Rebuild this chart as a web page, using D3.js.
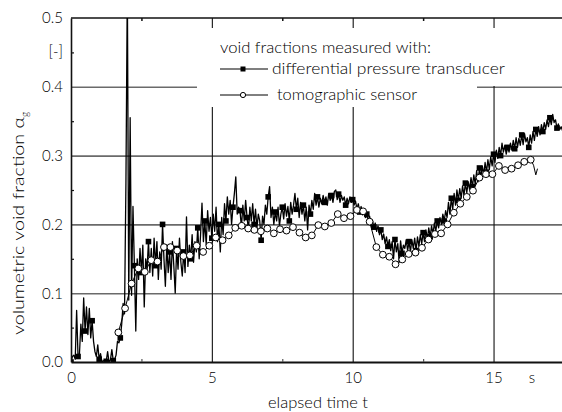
<!DOCTYPE html>
<html>
<head>
<meta charset="utf-8">
<script src="https://cdn.jsdelivr.net/npm/d3@7"></script>
<style>
  html, body { margin: 0; padding: 0; background: #fff; }
  svg { display: block; }
  text { font-family: Lato, "Liberation Sans", sans-serif; font-weight: 300; fill: #000; }
</style>
</head>
<body>
<svg id="chart" width="562" height="412"></svg>
<script>
// Differential pressure transducer: sampled every dpStep seconds from dpStart
const dpStart = 0;
const dpStep = 0.05;
const dpValues = [
  0.000, 0.008, 0.010, 0.004, 0.075, 0.008, 0.012, 0.055, 0.030, 0.093,
  0.045, 0.080, 0.040, 0.078, 0.035, 0.060, 0.030, 0.015, 0.008, 0.025,
  0.004, 0.012, 0.000, 0.002, 0.000, 0.001, 0.015, 0.000, 0.003, 0.018,
  0.002, 0.004, 0.010, 0.030, 0.028, 0.035, 0.055, 0.085, 0.070, 0.260,
  0.550, 0.090, 0.355, 0.097, 0.226, 0.140, 0.045, 0.150, 0.120, 0.165,
  0.130, 0.170, 0.080, 0.150, 0.135, 0.175, 0.130, 0.165, 0.125, 0.180,
  0.140, 0.175, 0.120, 0.160, 0.135, 0.200, 0.150, 0.110, 0.170, 0.130,
  0.160, 0.120, 0.175, 0.140, 0.100, 0.165, 0.135, 0.180, 0.145, 0.125,
  0.160, 0.130, 0.211, 0.139, 0.170, 0.150, 0.185, 0.145, 0.175, 0.160,
  0.195, 0.150, 0.185, 0.231, 0.175, 0.205, 0.170, 0.220, 0.190, 0.210,
  0.180, 0.215, 0.190, 0.225, 0.175, 0.200, 0.160, 0.210, 0.185, 0.230,
  0.205, 0.240, 0.215, 0.235, 0.200, 0.225, 0.245, 0.269, 0.215, 0.225,
  0.220, 0.195, 0.228, 0.205, 0.235, 0.210, 0.192, 0.225, 0.205, 0.230,
  0.200, 0.222, 0.195, 0.215, 0.205, 0.177, 0.212, 0.200, 0.228, 0.215,
  0.240, 0.255, 0.210, 0.225, 0.200, 0.218, 0.205, 0.225, 0.198, 0.215,
  0.225, 0.208, 0.230, 0.212, 0.226, 0.205, 0.232, 0.215, 0.228, 0.245,
  0.222, 0.238, 0.210, 0.232, 0.215, 0.228, 0.205, 0.225, 0.192, 0.228,
  0.215, 0.235, 0.222, 0.245, 0.228, 0.240, 0.225, 0.238, 0.230, 0.242,
  0.232, 0.240, 0.228, 0.245, 0.235, 0.242, 0.232, 0.248, 0.250, 0.236,
  0.244, 0.232, 0.242, 0.235, 0.240, 0.228, 0.238, 0.230, 0.240, 0.232,
  0.236, 0.228, 0.234, 0.222, 0.230, 0.218, 0.226, 0.214, 0.222, 0.210,
  0.215, 0.205, 0.212, 0.200, 0.206, 0.196, 0.202, 0.190, 0.198, 0.185,
  0.192, 0.178, 0.186, 0.172, 0.182, 0.168, 0.178, 0.162, 0.175, 0.150,
  0.178, 0.160, 0.172, 0.145, 0.176, 0.158, 0.170, 0.165, 0.178, 0.162,
  0.175, 0.160, 0.178, 0.165, 0.180, 0.162, 0.182, 0.168, 0.185, 0.172,
  0.188, 0.175, 0.192, 0.178, 0.195, 0.182, 0.198, 0.186, 0.202, 0.190,
  0.205, 0.195, 0.210, 0.200, 0.215, 0.205, 0.220, 0.210, 0.232, 0.215,
  0.238, 0.222, 0.245, 0.228, 0.250, 0.235, 0.252, 0.238, 0.256, 0.242,
  0.260, 0.246, 0.262, 0.250, 0.268, 0.255, 0.272, 0.258, 0.278, 0.262,
  0.282, 0.268, 0.285, 0.272, 0.290, 0.276, 0.294, 0.280, 0.298, 0.285,
  0.302, 0.290, 0.308, 0.296, 0.312, 0.300, 0.318, 0.305, 0.315, 0.302,
  0.312, 0.305, 0.318, 0.308, 0.322, 0.310, 0.326, 0.312, 0.325, 0.315,
  0.330, 0.316, 0.332, 0.320, 0.326, 0.312, 0.330, 0.318, 0.335, 0.322,
  0.338, 0.328, 0.342, 0.330, 0.345, 0.335, 0.348, 0.338, 0.352, 0.342,
  0.355, 0.345, 0.360, 0.348, 0.352, 0.340, 0.346, 0.338, 0.342, 0.336
];
const dpMarkerEvery = 5;

// Tomographic sensor: time [s] and void fraction
const tomoTime = [
  1.68, 1.92, 2.15, 2.39, 2.62, 2.85, 3.07, 3.30, 3.53, 3.77,
  3.99, 4.22, 4.46, 4.69, 4.91, 5.14, 5.38, 5.60, 5.83, 6.06,
  6.29, 6.51, 6.74, 6.97, 7.20, 7.42, 7.65, 7.88, 8.11, 8.33,
  8.55, 8.78, 9.01, 9.24, 9.47, 9.69, 9.92, 10.15, 10.37, 10.60,
  10.84, 11.07, 11.30, 11.52, 11.76, 11.99, 12.23, 12.46, 12.69, 12.92,
  13.14, 13.37, 13.59, 13.82, 14.05, 14.27, 14.50, 14.73, 14.96, 15.19,
  15.41, 15.64, 15.87, 16.09, 16.32, 16.42, 16.50, 16.56
];
const tomoValues = [
  0.043, 0.078, 0.114, 0.136, 0.131, 0.148, 0.146, 0.167, 0.167, 0.162,
  0.154, 0.155, 0.169, 0.160, 0.169, 0.181, 0.177, 0.184, 0.195, 0.198,
  0.194, 0.192, 0.190, 0.194, 0.187, 0.193, 0.191, 0.196, 0.188, 0.181,
  0.184, 0.199, 0.197, 0.202, 0.215, 0.209, 0.212, 0.221, 0.219, 0.204,
  0.167, 0.156, 0.153, 0.142, 0.149, 0.157, 0.159, 0.166, 0.178, 0.186,
  0.187, 0.200, 0.217, 0.230, 0.240, 0.249, 0.268, 0.273, 0.273, 0.285,
  0.279, 0.281, 0.286, 0.291, 0.294, 0.286, 0.272, 0.281
];
const tomoMarkerCount = 65;

const yTicks = [0.0, 0.1, 0.2, 0.3, 0.4, 0.5];
const yMinorTicks = [0.05, 0.15, 0.25, 0.35, 0.45];
const xTicks = [0, 5, 10, 15];
const xMinorTicks = [2.5, 7.5, 12.5];
const xGridTicks = [5, 10, 15];
const yGridTicks = [0.1, 0.2, 0.3, 0.4];

const svg = d3.select("#chart");
const plotLeft = 71, plotRight = 562, plotTop = 18, plotBottom = 362;
const labelFont = "Lato, 'Liberation Sans', sans-serif";

const x = d3.scaleLinear().domain([0, 17.43]).range([plotLeft, plotRight]);
const y = d3.scaleLinear().domain([0, 0.5]).range([plotBottom, plotTop]);

svg.append("defs").append("clipPath").attr("id", "plotClip")
  .append("rect").attr("x", plotLeft).attr("y", plotTop)
  .attr("width", plotRight - plotLeft).attr("height", plotBottom - plotTop);

// horizontal grid
svg.append("g")
  .attr("transform", `translate(${plotLeft},0)`)
  .call(d3.axisLeft(y).tickValues(yGridTicks).tickSize(-(plotRight - plotLeft)).tickFormat(""))
  .call(g => g.select(".domain").remove())
  .call(g => g.selectAll("line").attr("stroke", "#6a6a6a").attr("stroke-width", 1.6));

// vertical grid
svg.append("g")
  .attr("transform", `translate(0,${plotBottom})`)
  .call(d3.axisBottom(x).tickValues(xGridTicks).tickSize(-(plotBottom - plotTop)).tickFormat(""))
  .call(g => g.select(".domain").remove())
  .call(g => g.selectAll("line").attr("stroke", "#111").attr("stroke-width", 1.1));

// top frame line with minor ticks
svg.append("line").attr("x1", plotLeft).attr("x2", plotRight).attr("y1", plotTop).attr("y2", plotTop)
  .attr("stroke", "#111").attr("stroke-width", 1.5);
svg.append("g")
  .attr("transform", `translate(0,${plotTop})`)
  .call(d3.axisTop(x).tickValues(xMinorTicks).tickSize(-3).tickFormat(""))
  .call(g => g.select(".domain").remove())
  .call(g => g.selectAll("line").attr("stroke", "#111").attr("stroke-width", 1.5));

// data
const plot = svg.append("g").attr("clip-path", "url(#plotClip)");

const dpData = dpValues.map((v, i) => ({ t: dpStart + i * dpStep, v }));
const tomoData = tomoTime.map((t, i) => ({ t, v: tomoValues[i] }));

const line = d3.line().x(d => x(d.t)).y(d => y(d.v));

plot.append("path").datum(dpData)
  .attr("fill", "none").attr("stroke", "#000").attr("stroke-width", 1.3)
  .attr("stroke-linejoin", "round").attr("d", line);

plot.selectAll("rect.dp").data(dpData.filter((d, i) => i % dpMarkerEvery === 0))
  .join("rect").attr("class", "dp")
  .attr("x", d => x(d.t) - 2.8).attr("y", d => y(d.v) - 2.8)
  .attr("width", 5.6).attr("height", 5.6).attr("fill", "#000");

plot.append("path").datum(tomoData)
  .attr("fill", "none").attr("stroke", "#000").attr("stroke-width", 1)
  .attr("d", line);

plot.selectAll("circle.tomo").data(tomoData.slice(0, tomoMarkerCount))
  .join("circle").attr("class", "tomo")
  .attr("cx", d => x(d.t)).attr("cy", d => y(d.v)).attr("r", 3.4)
  .attr("fill", "#fff").attr("stroke", "#000").attr("stroke-width", 1);

// left axis
const yAxis = svg.append("g")
  .attr("transform", `translate(${plotLeft},0)`)
  .call(d3.axisLeft(y).tickValues(yTicks).tickSize(0).tickPadding(8).tickFormat(d3.format(".1f")));
yAxis.select(".domain").attr("stroke", "#111").attr("stroke-width", 1.6);
yAxis.selectAll("text").attr("font-size", 15).attr("fill", "#000")
  .style("font-family", labelFont).style("font-weight", 300);

svg.append("g")
  .attr("transform", `translate(${plotLeft},0)`)
  .call(d3.axisLeft(y).tickValues(yMinorTicks).tickSize(-3).tickFormat(""))
  .call(g => g.select(".domain").remove())
  .call(g => g.selectAll("line").attr("stroke", "#111").attr("stroke-width", 1.2));

svg.append("text").attr("x", 63).attr("y", y(0.45) + 5).attr("text-anchor", "end")
  .attr("font-size", 15).text("[-]");

// bottom axis
const xAxis = svg.append("g")
  .attr("transform", `translate(0,${plotBottom})`)
  .call(d3.axisBottom(x).tickValues(xTicks).tickSize(0).tickPadding(10).tickFormat(d3.format("d")));
xAxis.select(".domain").attr("stroke", "#111").attr("stroke-width", 2.2);
xAxis.selectAll("text").attr("font-size", 15).attr("fill", "#000")
  .style("font-family", labelFont).style("font-weight", 300);

svg.append("g")
  .attr("transform", `translate(0,${plotBottom})`)
  .call(d3.axisBottom(x).tickValues(xMinorTicks).tickSize(-3).tickFormat(""))
  .call(g => g.select(".domain").remove())
  .call(g => g.selectAll("line").attr("stroke", "#555").attr("stroke-width", 1.2));

svg.append("text").attr("x", x(16.36)).attr("y", 383).attr("text-anchor", "middle")
  .attr("font-size", 15).text("s");

// axis titles
svg.append("text").attr("x", 318).attr("y", 408).attr("text-anchor", "middle")
  .attr("font-size", 15)
  .attr("textLength", 100).attr("lengthAdjust", "spacingAndGlyphs")
  .text("elapsed time t");

const yTitle = svg.append("text")
  .attr("transform", "translate(24,335) rotate(-90)")
  .attr("font-size", 15);
yTitle.append("tspan").attr("textLength", 218).attr("lengthAdjust", "spacingAndGlyphs")
  .text("volumetric void fraction α");
yTitle.append("tspan").attr("font-size", 10).attr("dy", 4).text("g");

// legend
const legend = svg.append("g");
legend.append("rect").attr("x", 197).attr("y", 28).attr("width", 311).attr("height", 58).attr("fill", "#fff");
legend.append("rect").attr("x", 197).attr("y", 86).attr("width", 280).attr("height", 21).attr("fill", "#fff");

legend.append("text").attr("x", 220).attr("y", 53).attr("font-size", 15)
  .attr("textLength", 211).attr("lengthAdjust", "spacingAndGlyphs")
  .text("void fractions measured with:");

legend.append("line").attr("x1", 220).attr("x2", 268).attr("y1", 69).attr("y2", 69)
  .attr("stroke", "#000").attr("stroke-width", 1.1);
legend.append("rect").attr("x", 240.5).attr("y", 66.5).attr("width", 5).attr("height", 5).attr("fill", "#000");
legend.append("text").attr("x", 272).attr("y", 74).attr("font-size", 15)
  .attr("textLength", 233).attr("lengthAdjust", "spacingAndGlyphs")
  .text("differential pressure transducer");

legend.append("line").attr("x1", 220).attr("x2", 268).attr("y1", 95).attr("y2", 95)
  .attr("stroke", "#000").attr("stroke-width", 1);
legend.append("circle").attr("cx", 243).attr("cy", 95).attr("r", 2.6)
  .attr("fill", "#fff").attr("stroke", "#000").attr("stroke-width", 1);
legend.append("text").attr("x", 277).attr("y", 100).attr("font-size", 15)
  .attr("textLength", 140).attr("lengthAdjust", "spacingAndGlyphs")
  .text("tomographic sensor");
</script>
</body>
</html>
